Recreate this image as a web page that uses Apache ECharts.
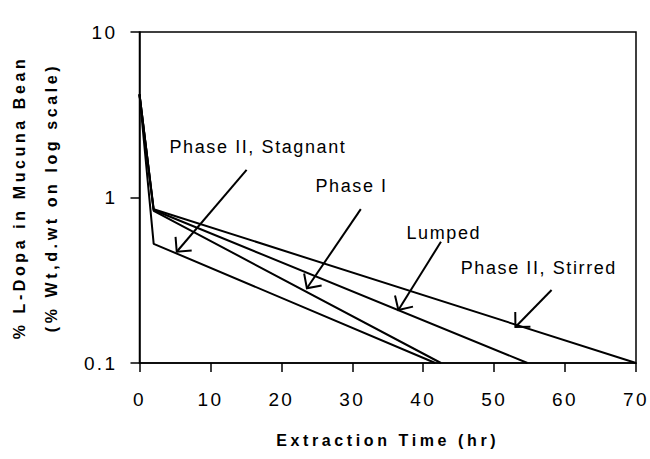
<!DOCTYPE html>
<html>
<head>
<meta charset="utf-8">
<script src="https://cdn.jsdelivr.net/npm/echarts@6/dist/echarts.min.js"></script>
<style>
  html, body { margin: 0; padding: 0; background: #fff; }
  #chart { width: 650px; height: 459px; }
  #chart text { letter-spacing: 1.6px; }
  #chart text[style*="19px"] { letter-spacing: 2.4px; }
  #chart text[style*="bold"] { letter-spacing: 3.6px; }
</style>
</head>
<body>
<div id="chart"></div>
<script>
// time (hr) and % L-Dopa points for each model curve
var seriesNames = ['Phase II, Stirred', 'Lumped', 'Phase I', 'Phase II, Stagnant'];
var timeStirred = [0, 2, 70];
var ldopaStirred = [4.2, 0.85, 0.1];
var timeLumped = [0, 2, 54.7];
var ldopaLumped = [4.2, 0.84, 0.1];
var timePhase1 = [0, 2, 42.5];
var ldopaPhase1 = [4.2, 0.83, 0.1];
var timeStagnant = [0, 2, 41.7];
var ldopaStagnant = [4.2, 0.525, 0.1];

var xTicks = [0, 10, 20, 30, 40, 50, 60, 70];
var yTicks = [0.1, 1, 10];

// labels: text anchor, arrow start, arrow tip (data coords)
var annoText = ['Phase II, Stagnant', 'Phase I', 'Lumped', 'Phase II, Stirred'];
var annoTextAt = [[16.7, 2.02], [29.9, 1.18], [42.9, 0.61], [56.3, 0.375]];
var annoFrom = [[15.1, 1.47], [31.2, 0.85], [42.5, 0.54], [58.1, 0.276]];
var annoTip = [[5.25, 0.47], [23.6, 0.283], [36.5, 0.209], [53.0, 0.165]];

function pairs(xs, ys) {
  var res = [];
  for (var i = 0; i < xs.length; i++) res.push([xs[i], ys[i]]);
  return res;
}

var dom = document.getElementById('chart');
var myChart = echarts.init(dom, null, { renderer: 'svg' });
var font = '"Liberation Sans", Arial, sans-serif';

var curves = [
  pairs(timeStirred, ldopaStirred),
  pairs(timeLumped, ldopaLumped),
  pairs(timePhase1, ldopaPhase1),
  pairs(timeStagnant, ldopaStagnant)
];

var option = {
  animation: false,
  backgroundColor: '#fff',
  grid: {
    left: 139.5, right: 14, top: 32, bottom: 96,
    containLabel: false, outerBoundsMode: 'none',
    show: true, borderColor: '#000', borderWidth: 1.5
  },
  xAxis: {
    type: 'value',
    min: xTicks[0],
    max: xTicks[xTicks.length - 1],
    interval: 10,
    name: 'Extraction Time (hr)',
    nameLocation: 'middle',
    nameGap: 69,
    nameTextStyle: { color: '#000', fontFamily: font, fontWeight: 'bold', fontSize: 16 },
    axisLine: { lineStyle: { color: '#000', width: 1.5 } },
    axisTick: { length: 9, lineStyle: { color: '#000', width: 1.5 } },
    axisLabel: { color: '#000', fontFamily: font, fontSize: 19, margin: 27 },
    splitLine: { show: false }
  },
  yAxis: {
    type: 'log',
    logBase: 10,
    min: yTicks[0],
    max: yTicks[yTicks.length - 1],
    name: '% L-Dopa in Mucuna Bean\n(% Wt,d.wt on log scale)',
    nameLocation: 'middle',
    nameRotate: 90,
    nameGap: 72,
    nameTextStyle: { color: '#000', fontFamily: font, fontWeight: 'bold', fontSize: 16, lineHeight: 32 },
    axisLine: { lineStyle: { color: '#000', width: 1.5 } },
    axisTick: { length: 9, lineStyle: { color: '#000', width: 1.5 } },
    axisLabel: {
      color: '#000', fontFamily: font, fontSize: 19, margin: 22,
      padding: [0, 0, 8, 0],
      formatter: function (v) { return String(+v.toPrecision(3)); }
    },
    splitLine: { show: false },
    minorTick: { show: false }
  },
  series: curves.map(function (d, i) {
    return {
      name: seriesNames[i],
      type: 'line',
      data: d,
      symbol: 'none',
      lineStyle: { color: '#000', width: 2 }
    };
  })
};
myChart.setOption(option);

// annotation arrows placed through the chart's own coordinate system
var graphics = [];
for (var i = 0; i < annoText.length; i++) {
  var t = myChart.convertToPixel({ gridIndex: 0 }, annoTextAt[i]);
  var a = myChart.convertToPixel({ gridIndex: 0 }, annoFrom[i]);
  var b = myChart.convertToPixel({ gridIndex: 0 }, annoTip[i]);
  graphics.push({
    type: 'text', x: t[0], y: t[1], z: 10,
    style: { text: annoText[i], fill: '#000', font: '18px ' + font, align: 'center', verticalAlign: 'middle' }
  });
  graphics.push({
    type: 'line', z: 10,
    shape: { x1: a[0], y1: a[1], x2: b[0], y2: b[1] },
    style: { stroke: '#000', lineWidth: 2 }
  });
  var ang = Math.atan2(a[1] - b[1], a[0] - b[0]);
  var len = 15, spread = Math.PI / 4;
  graphics.push({
    type: 'polyline', z: 10,
    shape: { points: [
      [b[0] + len * Math.cos(ang + spread), b[1] + len * Math.sin(ang + spread)],
      [b[0], b[1]],
      [b[0] + len * Math.cos(ang - spread), b[1] + len * Math.sin(ang - spread)]
    ] },
    style: { stroke: '#000', lineWidth: 2, fill: null }
  });
}
myChart.setOption({ graphic: graphics });
</script>
</body>
</html>
